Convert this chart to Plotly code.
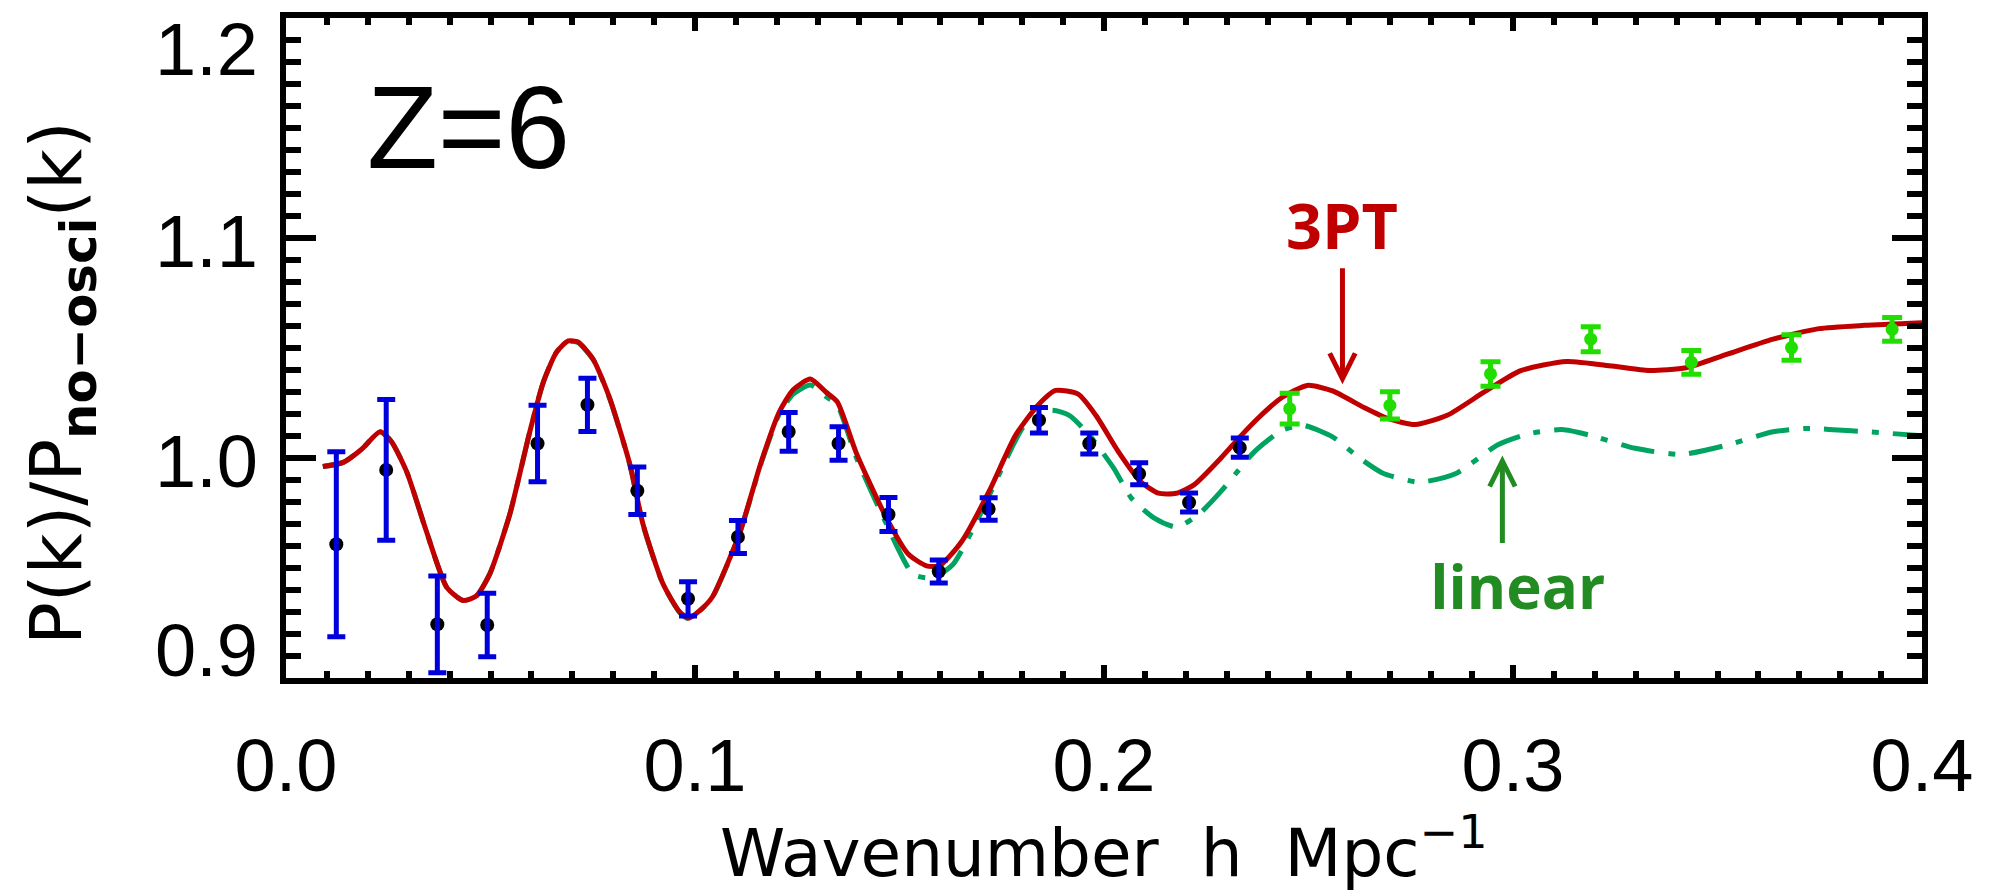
import plotly.graph_objects as go

# ---------------- data ----------------
# simulation points (black dots, blue error bars)
blue_k = [0.0123, 0.0245, 0.0370, 0.0492, 0.0615, 0.0737, 0.0859, 0.0983, 0.1105, 0.1229,
          0.1351, 0.1473, 0.1596, 0.1718, 0.1841, 0.1964, 0.2086, 0.2208, 0.2332]
blue_v = [0.9608, 0.9946, 0.9244, 0.9241, 1.0066, 1.0242, 0.9851, 0.9360, 0.9641, 1.0119,
          1.0066, 0.9743, 0.9484, 0.9768, 1.0172, 1.0066, 0.9928, 0.9798, 1.0047]
blue_err = [0.0420, 0.0320, 0.0220, 0.0144, 0.0174, 0.0121, 0.0108, 0.0078, 0.0075, 0.0088,
            0.0076, 0.0077, 0.0052, 0.0051, 0.0058, 0.0048, 0.0050, 0.0043, 0.0044]

# green points at high k
green_k = [0.2454, 0.2699, 0.2945, 0.3190, 0.3436, 0.3681, 0.3927]
green_v = [1.0224, 1.0239, 1.0382, 1.0540, 1.0435, 1.0502, 1.0585]
green_err = [0.0070, 0.0062, 0.0056, 0.0057, 0.0054, 0.0058, 0.0054]

# 3PT prediction (red solid)
pt3_k = [0.0090, 0.0140, 0.0185, 0.0230, 0.0258, 0.0295, 0.0343, 0.0393, 0.0433, 0.0466,
         0.0498, 0.0547, 0.0596, 0.0629, 0.0661, 0.0690, 0.0714, 0.0751, 0.0792, 0.0841,
         0.0873, 0.0922, 0.0963, 0.0985, 0.1012, 0.1042, 0.1108, 0.1162, 0.1206, 0.1240,
         0.1282, 0.1320, 0.1348, 0.1395, 0.1468, 0.1522, 0.1566, 0.1598, 0.1653, 0.1719,
         0.1784, 0.1838, 0.1882, 0.1937, 0.1980, 0.2035, 0.2089, 0.2133, 0.2177, 0.2220,
         0.2286, 0.2332, 0.2379, 0.2435, 0.2497, 0.2559, 0.2637, 0.2693, 0.2761, 0.2839,
         0.2929, 0.3019, 0.3131, 0.3243, 0.3333, 0.3423, 0.3524, 0.3636, 0.3748, 0.3860,
         0.4000]
pt3_v = [0.9961, 0.9980, 1.0040, 1.0119, 1.0074, 0.9938, 0.9668, 0.9412, 0.9352, 0.9374,
         0.9472, 0.9743, 1.0119, 1.0344, 1.0480, 1.0532, 1.0527, 1.0449, 1.0269, 0.9969,
         0.9698, 0.9427, 0.9299, 0.9272, 0.9307, 0.9367, 0.9653, 0.9983, 1.0209, 1.0310,
         1.0359, 1.0300, 1.0255, 1.0020, 0.9728, 0.9562, 0.9510, 0.9510, 0.9623, 0.9848,
         1.0104, 1.0239, 1.0307, 1.0290, 1.0194, 1.0029, 0.9893, 0.9840, 0.9840, 0.9878,
         1.0000, 1.0095, 1.0185, 1.0275, 1.0330, 1.0305, 1.0228, 1.0180, 1.0152, 1.0194,
         1.0299, 1.0397, 1.0439, 1.0418, 1.0398, 1.0410, 1.0472, 1.0540, 1.0588, 1.0603,
         1.0615]

# linear prediction (green dash-dot)
lin_k = [0.0090, 0.0140, 0.0185, 0.0230, 0.0258, 0.0295, 0.0343, 0.0393, 0.0433, 0.0466,
         0.0498, 0.0547, 0.0596, 0.0629, 0.0661, 0.0690, 0.0714, 0.0751, 0.0792, 0.0841,
         0.0873, 0.0922, 0.0963, 0.0985, 0.1012, 0.1042, 0.1108, 0.1162, 0.1206, 0.1240,
         0.1282, 0.1320, 0.1348, 0.1395, 0.1468, 0.1533, 0.1580, 0.1631, 0.1697, 0.1762,
         0.1806, 0.1871, 0.1915, 0.1964, 0.2024, 0.2067, 0.2122, 0.2177, 0.2231, 0.2286,
         0.2323, 0.2368, 0.2435, 0.2486, 0.2559, 0.2626, 0.2682, 0.2772, 0.2862, 0.2962,
         0.3041, 0.3120, 0.3187, 0.3299, 0.3411, 0.3524, 0.3636, 0.3714, 0.3827, 0.4000]
lin_v = [0.9961, 0.9980, 1.0040, 1.0119, 1.0074, 0.9938, 0.9668, 0.9412, 0.9352, 0.9374,
         0.9472, 0.9743, 1.0119, 1.0344, 1.0480, 1.0530, 1.0525, 1.0447, 1.0267, 0.9967,
         0.9696, 0.9425, 0.9297, 0.9270, 0.9305, 0.9365, 0.9650, 0.9978, 1.0200, 1.0290,
         1.0332, 1.0280, 1.0240, 1.0000, 0.9700, 0.9472, 0.9455, 0.9517, 0.9743, 0.9998,
         1.0149, 1.0217, 1.0194, 1.0104, 0.9953, 0.9818, 0.9728, 0.9686, 0.9743, 0.9848,
         0.9931, 1.0029, 1.0126, 1.0149, 1.0096, 0.9998, 0.9931, 0.9890, 0.9931, 1.0059,
         1.0111, 1.0129, 1.0104, 1.0044, 1.0016, 1.0059, 1.0119, 1.0134, 1.0124, 1.0101]

y_tick_vals = [1.2, 1.1, 1.0, 0.9]
y_tick_text = ["1.2", "1.1", "1.0", "0.9"]

RED = "rgb(192,0,0)"
LIN_GREEN = "rgb(0,163,96)"
PT_GREEN = "rgb(34,222,0)"
BLUE = "rgb(0,0,220)"
TXT_GREEN = "rgb(34,139,34)"

fig = go.Figure()

fig.add_trace(go.Scatter(x=lin_k, y=lin_v, mode="lines",
                         line=dict(color=LIN_GREEN, width=5, dash="34px,14px,7px,14px",
                                   shape="spline", smoothing=0.6),
                         hoverinfo="skip"))
fig.add_trace(go.Scatter(x=pt3_k, y=pt3_v, mode="lines",
                         line=dict(color=RED, width=5, shape="spline", smoothing=0.6),
                         hoverinfo="skip"))

# black dots
fig.add_trace(go.Scatter(x=blue_k, y=blue_v, mode="markers",
                         marker=dict(color="black", size=14)))
# blue error bars drawn on top of the dots
fig.add_trace(go.Scatter(x=blue_k, y=blue_v, mode="markers",
                         marker=dict(color="rgba(0,0,0,0)", size=1),
                         error_y=dict(type="data", array=blue_err, visible=True,
                                      color=BLUE, thickness=5, width=9)))
# green points
fig.add_trace(go.Scatter(x=green_k, y=green_v, mode="markers",
                         marker=dict(color=PT_GREEN, size=13),
                         error_y=dict(type="data", array=green_err, visible=True,
                                      color=PT_GREEN, thickness=5, width=10)))

tick_font = dict(family="Liberation Sans, Arial, sans-serif", size=74, color="black")

fig.update_xaxes(range=[0, 0.4], tickmode="linear", tick0=0, dtick=0.1, tickformat=".1f",
                 ticks="inside", ticklen=13, tickwidth=5.5, tickcolor="black",
                 showline=True, linewidth=6, linecolor="black", mirror="ticks",
                 showgrid=False, zeroline=False, tickfont=tick_font,
                 ticklabelstandoff=18,
                 minor=dict(dtick=0.01, tick0=0, ticks="inside", ticklen=7, tickwidth=5.5,
                            tickcolor="black", showgrid=False))
fig.update_yaxes(range=[0.9, 1.2], tickmode="linear", tick0=0.9, dtick=0.1,
                 showticklabels=False,
                 ticks="inside", ticklen=30, tickwidth=5.5, tickcolor="black",
                 showline=True, linewidth=6, linecolor="black", mirror="ticks",
                 showgrid=False, zeroline=False,
                 minor=dict(dtick=0.01, tick0=0.9, ticks="inside", ticklen=15, tickwidth=5.5,
                            tickcolor="black", showgrid=False))

annotations = []
# y tick labels (end labels are pulled inside the axis range, as in the reference)
for val, txt in zip(y_tick_vals, y_tick_text):
    if val == 1.2:
        anchor, shift = "top", 12
    elif val == 0.9:
        anchor, shift = "bottom", -16
    else:
        anchor, shift = "middle", -3
    annotations.append(dict(x=0, xref="paper", y=val, yref="y", text=txt, showarrow=False,
                            xanchor="right", xshift=-26, yanchor=anchor, yshift=shift,
                            font=tick_font))

# axis titles
annotations.append(dict(x=0.5, xref="paper", y=0, yref="paper",
                        text="Wavenumber\u00a0\u00a0h\u00a0\u00a0Mpc<sup>\u22121</sup>",
                        showarrow=False, xanchor="center", yanchor="bottom", yshift=-216,
                        font=dict(family="DejaVu Sans", size=66, color="black")))
annotations.append(dict(x=0, xref="paper", y=0.5, yref="paper",
                        text="P(k)/P<sub><b>no\u2212osci</b></sub>(k)",
                        showarrow=False, textangle=-90, xanchor="center", yanchor="middle",
                        xshift=-225, yshift=-35,
                        font=dict(family="DejaVu Sans", size=71, color="black")))

# z label
annotations.append(dict(x=0.0445, y=1.1499, xref="x", yref="y", text="Z=6", showarrow=False,
                        xanchor="center", yanchor="middle",
                        font=dict(family="Liberation Sans, Arial, sans-serif", size=116,
                                  color="black")))

# 3PT label with its arrow (arrow head sits on the red curve)
annotations.append(dict(x=0.2583, y=1.0335, xref="x", yref="y", text="<b>3PT</b>",
                        showarrow=True, ax=0, ay=-160, arrowhead=5, arrowsize=1,
                        arrowwidth=5, arrowcolor=RED,
                        font=dict(family="Open Sans", size=63, color=RED)))
# linear label with its arrow (arrow head sits on the green dash-dot curve)
annotations.append(dict(x=0.2974, y=1.0011, xref="x", yref="y",
                        text="\u00a0\u00a0<b>linear</b>",
                        showarrow=True, ax=0, ay=130, arrowhead=5, arrowsize=1,
                        arrowwidth=5, arrowcolor=TXT_GREEN,
                        font=dict(family="Open Sans", size=60, color=TXT_GREEN)))

fig.update_layout(width=1995, height=893, margin=dict(l=286, r=73, t=13, b=215),
                  plot_bgcolor="white", paper_bgcolor="white", showlegend=False,
                  annotations=annotations)

fig.write_html("out.html")
